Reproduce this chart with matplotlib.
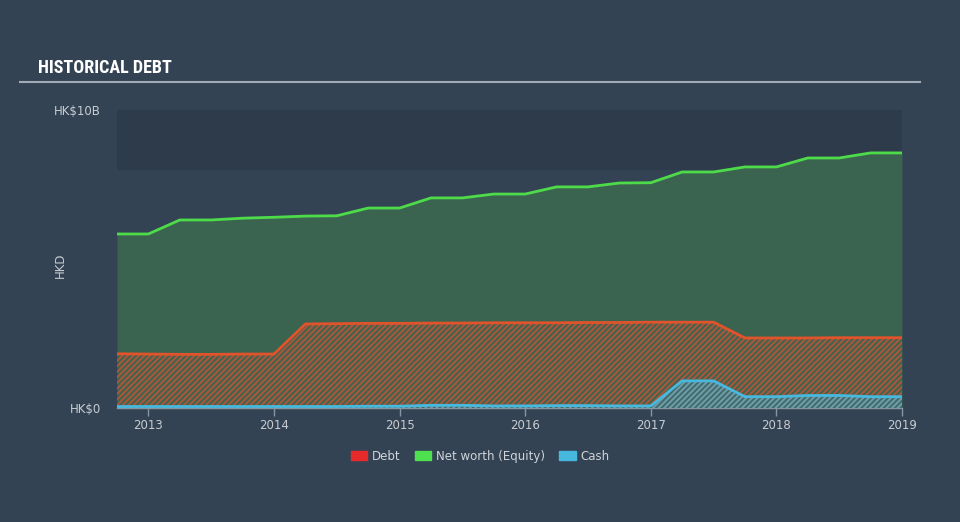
import numpy as np
import matplotlib.pyplot as plt
from matplotlib.patches import Patch
from matplotlib.lines import Line2D

# quarter-end dates as decimal years, values in HK$ billions
quarters = [2012.75, 2013.0, 2013.25, 2013.5, 2013.75, 2014.0, 2014.25, 2014.5,
            2014.75, 2015.0, 2015.25, 2015.5, 2015.75, 2016.0, 2016.25, 2016.5,
            2016.75, 2017.0, 2017.25, 2017.5, 2017.75, 2018.0, 2018.25, 2018.5,
            2018.75, 2019.0]
equity = [5.84, 5.84, 6.31, 6.31, 6.37, 6.40, 6.44, 6.45,
          6.71, 6.71, 7.05, 7.05, 7.18, 7.18, 7.42, 7.42,
          7.55, 7.56, 7.92, 7.92, 8.09, 8.09, 8.39, 8.39,
          8.56, 8.56]
debt = [1.82, 1.81, 1.80, 1.80, 1.81, 1.81, 2.82, 2.83,
        2.84, 2.84, 2.85, 2.85, 2.86, 2.86, 2.86, 2.87,
        2.87, 2.88, 2.88, 2.88, 2.35, 2.35, 2.35, 2.36,
        2.36, 2.36]
cash = [0.05, 0.05, 0.05, 0.05, 0.05, 0.05, 0.05, 0.05,
        0.06, 0.06, 0.09, 0.09, 0.07, 0.07, 0.08, 0.08,
        0.07, 0.07, 0.91, 0.91, 0.38, 0.38, 0.42, 0.42,
        0.38, 0.38]
years = [2013, 2014, 2015, 2016, 2017, 2018, 2019]

bg = '#344353'
txt = '#c8ccd2'
plt.rcParams['hatch.linewidth'] = 1.5

fig = plt.figure(figsize=(9.6, 5.22), dpi=100, facecolor=bg)
ax = fig.add_axes([117/960, 1 - 408/522, 785/960, 298/522])
ax.set_facecolor(bg)
ax.axhspan(8, 10, color='#2e3b4a', lw=0, zorder=0)

x = np.array(quarters)
ax.fill_between(x, 0, equity, color='#3b6450', lw=0, zorder=1)
ax.plot(x, equity, color='#4ddb4a', lw=2, zorder=5)

ax.fill_between(x, 0, debt, facecolor='none', edgecolor='#a9573a',
                hatch='//////', lw=0, zorder=2)
ax.plot(x, debt, color='#e0532b', lw=2, zorder=5)

ax.fill_between(x, 0, cash, facecolor='#3e6a6a', edgecolor='#6f9aa8',
                hatch='//////', lw=0, zorder=3)
ax.plot(x, cash, color='#48b9de', lw=2, zorder=6)

ax.set_xlim(quarters[0], quarters[-1])
ax.set_ylim(0, 10)

for s in ['top', 'right', 'left']:
    ax.spines[s].set_visible(False)
ax.spines['bottom'].set_color('#8794a2')
ax.spines['bottom'].set_linewidth(1)

ax.set_xticks(years)
ax.set_xticklabels([str(y) for y in years])
ax.tick_params(axis='x', colors='#8794a2', length=6, width=1, labelcolor=txt,
               labelsize=8.5, pad=2)
ax.set_yticks([0, 10])
ax.set_yticklabels(['HK$0', 'HK$10B'])
ax.tick_params(axis='y', length=0, labelcolor=txt, labelsize=8.5, pad=11.5)
fig.text(60/960, 1 - 265/522, 'HKD', color=txt, fontsize=8.5, rotation=90,
         ha='center', va='center')

fig.text(38/960, 1 - 68/522, 'HISTORICAL DEBT', color='white', fontsize=13,
         fontweight='bold', fontstretch='condensed',
         family=['Roboto Condensed', 'Liberation Sans Narrow', 'DejaVu Sans'],
         va='center', ha='left')
fig.add_artist(Line2D([20/960, 920/960], [1 - 82/522, 1 - 82/522],
                      color='#a3acb6', lw=1.5, transform=fig.transFigure))

handles = [Patch(color='#e82a2a', label='Debt'),
           Patch(color='#4ee04e', label='Net worth (Equity)'),
           Patch(color='#48b9de', label='Cash')]
leg = fig.legend(handles=handles, loc='center', bbox_to_anchor=(0.5, 1 - 456/522),
                 ncol=3, frameon=False, fontsize=8.5, handlelength=1.4,
                 handleheight=0.9, columnspacing=1.2, handletextpad=0.4)
for t in leg.get_texts():
    t.set_color('#d0d4da')

fig.savefig('out.png', dpi=100, facecolor=bg)
